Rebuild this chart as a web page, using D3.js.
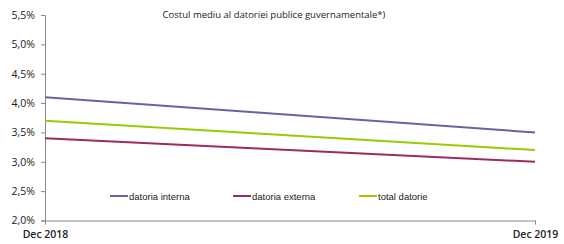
<!DOCTYPE html>
<html>
<head>
<meta charset="utf-8">
<script src="https://cdn.jsdelivr.net/npm/d3@7"></script>
<style>
  body { margin: 0; background: #fff; }
  svg text { fill: #222; }
</style>
</head>
<body>
<svg id="canvas" width="564" height="244"></svg>
<script>
const categories = ["Dec 2018", "Dec 2019"];
const datoriaInterna = [4.1, 3.5];
const datoriaExterna = [3.4, 3.0];
const totalDatorie = [3.7, 3.2];
const yTicks = [2.0, 2.5, 3.0, 3.5, 4.0, 4.5, 5.0, 5.5];

const series = [
    { name: "datoria interna", values: datoriaInterna, color: "#65659f" },
    { name: "datoria externa", values: datoriaExterna, color: "#9b2b61" },
    { name: "total datorie", values: totalDatorie, color: "#99cc00" }
];

const svg = d3.select("#canvas");
const x = d3.scalePoint().domain(categories).range([45, 535]);
const y = d3.scaleLinear().domain([2.0, 5.5]).range([220.5, 15]);
const fmt = d => d.toFixed(1).replace(".", ",") + "%";

// y axis
const yAxis = svg.append("g")
    .attr("transform", "translate(45,0)")
    .call(d3.axisLeft(y).tickValues(yTicks).tickFormat(fmt).tickSize(4).tickPadding(6));
yAxis.select(".domain").attr("stroke", "#888");
yAxis.selectAll(".tick line").attr("stroke", "#888");
yAxis.selectAll("text").attr("font-family", "Open Sans, sans-serif").attr("font-size", 10.5).attr("fill", "#333");

// x axis
const xAxis = svg.append("g")
    .attr("transform", "translate(0,220.5)")
    .call(d3.axisBottom(x).tickSize(4).tickSizeOuter(0).tickPadding(6));
xAxis.select(".domain").attr("stroke", "#888");
xAxis.selectAll(".tick line").attr("stroke", "#888");
xAxis.selectAll("text").attr("font-family", "Open Sans, sans-serif").attr("font-size", 10.5)
    .attr("font-weight", "600").attr("fill", "#333");

// lines
const line = d3.line().x((d, i) => x(categories[i])).y(d => y(d));
series.forEach(s => {
    svg.append("path")
        .datum(s.values)
        .attr("fill", "none")
        .attr("stroke", s.color)
        .attr("stroke-width", 2)
        .attr("d", line);
});

// title
svg.append("text")
    .attr("x", 274).attr("y", 18)
    .attr("text-anchor", "middle")
    .attr("font-family", "Open Sans, sans-serif")
    .attr("font-size", 9.5)
    .text("Costul mediu al datoriei publice guvernamentale*)");

// legend
const legendX = [110, 233, 359];
series.forEach((s, i) => {
    const g = svg.append("g").attr("transform", `translate(${legendX[i]},196)`);
    g.append("line").attr("x1", 0).attr("x2", 18).attr("stroke", s.color).attr("stroke-width", 2);
    g.append("text").attr("x", 19).attr("y", 3.5)
        .attr("font-family", "Liberation Sans, Arial, sans-serif")
        .attr("font-size", 9.5)
        .attr("fill", "#333")
        .text(s.name);
});
</script>
</body>
</html>
